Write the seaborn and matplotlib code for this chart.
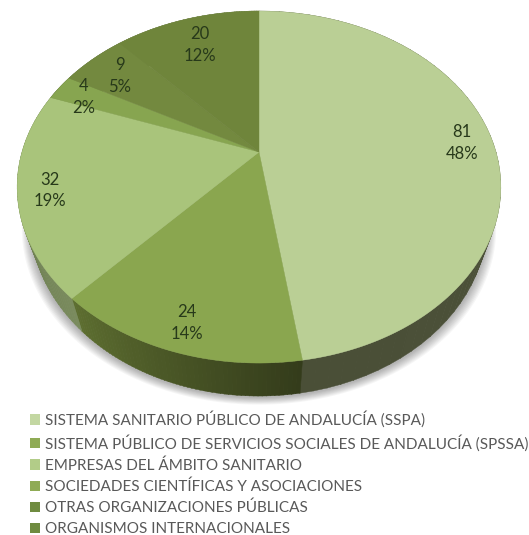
import numpy as np
import seaborn as sns
import matplotlib.pyplot as plt
from matplotlib.patches import Patch

sns.set_theme(style="white")
plt.rcParams['font.family'] = ['Lato', 'DejaVu Sans']

categories = [
    "SISTEMA SANITARIO PÚBLICO DE ANDALUCÍA (SSPA)",
    "SISTEMA PÚBLICO DE SERVICIOS SOCIALES DE ANDALUCÍA (SPSSA)",
    "EMPRESAS DEL ÁMBITO SANITARIO",
    "SOCIEDADES CIENTÍFICAS Y ASOCIACIONES",
    "OTRAS ORGANIZACIONES PÚBLICAS",
    "ORGANISMOS INTERNACIONALES",
]
values = [81, 24, 32, 4, 9, 20]

top_colors = sns.color_palette(["#bacf95", "#8aa64f", "#a9c47b", "#87a550", "#73893f", "#6f853b"])
legend_colors = sns.color_palette(["#c3d7a2", "#8fab55", "#b2cc88", "#8fab55", "#6f8b40", "#6f8b40"])
side_start = ["#4e533b", "#343c1b", "#7a8b5e", "#6f7f52", "#6f7f52", "#6f7f52"]
side_end = ["#4a4f37", "#5d6e30", "#5f7240", "#6f7f52", "#6f7f52", "#6f7f52"]

# radial position of each label, as a share of the radius
label_radius = [0.87, 0.87, 0.87, 0.87, 0.82, 0.79]

# tilted pie: a flat circle seen in perspective, in pixels of the picture
CX, APEX_Y = 259, 152
SCALE_X, SCALE_Y, TILT = 237, 138.8, -0.199
DEPTH = 33
BOTTOM_SHRINK = 0.945


def project(angle, r=1.0):
    u = r * np.sin(angle)
    v = -r * np.cos(angle)
    den = 1 + TILT * v
    return CX + SCALE_X * u / den, (SCALE_Y * v + APEX_Y) / den


def lower_rim(angle, grow=1.0):
    x, y = project(angle)
    return CX + (x - CX) * BOTTOM_SHRINK * grow, y + DEPTH


def mix(c1, c2, t):
    a = np.array(sns.color_palette([c1, c2]))
    return tuple(a[0] * (1 - t) + a[1] * t)


fractions = np.array(values) / sum(values)
edges = np.concatenate([[0], np.cumsum(fractions)]) * 2 * np.pi

fig, ax = plt.subplots(figsize=(5.29, 5.35), dpi=100)
ax.set_position([0, 0, 1, 1])
ax.set_xlim(0, 529)
ax.set_ylim(535, 0)
ax.axis("off")

# soft shadow under the pie
full = np.linspace(0, 2 * np.pi, 300)
for k in range(9, 0, -1):
    sx, sy = lower_rim(full, grow=1 + k * 0.0042)
    ax.fill(sx, sy + k * 0.85 + 1, color="black", alpha=0.035, lw=0, zorder=1)

# side wall, only the part facing the viewer is visible
for i in range(len(values)):
    steps = np.linspace(edges[i], edges[i + 1], 60)
    for j in range(len(steps) - 1):
        a0, a1 = steps[j], steps[j + 1] + 0.002
        x0, y0 = project(a0)
        x1, y1 = project(a1)
        x2, y2 = lower_rim(a1)
        x3, y3 = lower_rim(a0)
        col = mix(side_start[i], side_end[i], j / (len(steps) - 2))
        ax.fill([x0, x1, x2, x3], [y0, y1, y2, y3], color=col, lw=0.3, zorder=2)

# top face
for i in range(len(values)):
    steps = np.linspace(edges[i], edges[i + 1], 120)
    x, y = project(steps)
    ax.fill(np.r_[CX, x], np.r_[APEX_Y, y], color=top_colors[i], lw=0.3, zorder=3)

# value and percent labels
for i, v in enumerate(values):
    mid = (edges[i] + edges[i + 1]) / 2
    lx, ly = project(mid, label_radius[i])
    pct = round(fractions[i] * 100)
    ax.text(lx, ly + 2, f"{v}\n{pct}%", ha="center", va="center", fontsize=12,
            color="#27391a", linespacing=1.45, zorder=4)

handles = [Patch(facecolor=c, edgecolor="none") for c in legend_colors]
ax.legend(handles, categories, loc="upper left", bbox_to_anchor=(30, 411),
          bbox_transform=ax.transData, frameon=False, fontsize=10.95,
          labelcolor="#595959", handlelength=0.66, handleheight=0.66, handletextpad=0.33,
          labelspacing=0.45, borderpad=0, borderaxespad=0)

fig.savefig("out.png", dpi=100)
